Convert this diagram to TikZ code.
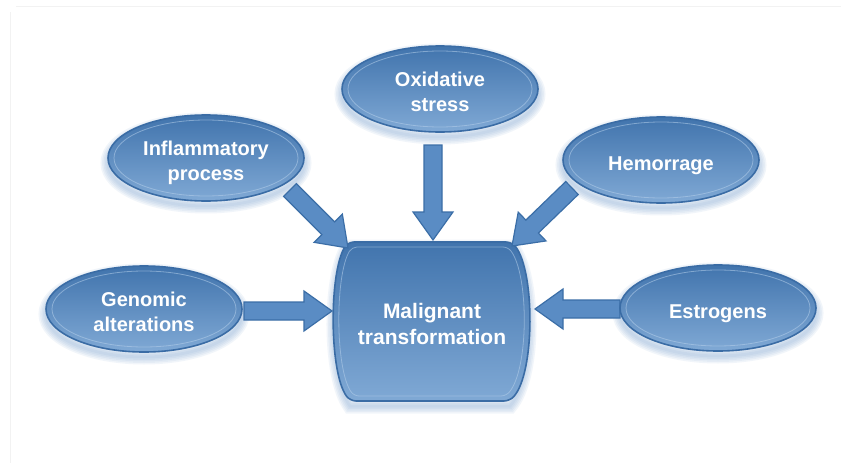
\documentclass[tikz,border=0pt]{standalone}
\usepackage{fontspec}
\setmainfont{Liberation Sans}
\usetikzlibrary{calc,shapes.geometric}
\definecolor{bTop}{HTML}{4174AD}
\definecolor{bBot}{HTML}{80A9D5}
\definecolor{bEdge}{HTML}{3A6CA5}
\definecolor{bRing}{HTML}{B5CFEA}
\definecolor{aFill}{HTML}{5A8CC4}
\definecolor{aEdge}{HTML}{3B6EA7}
\definecolor{glowc}{HTML}{7EA6D2}
\tikzset{
  bub/.style={ellipse, minimum width=196pt, minimum height=86pt, inner sep=0pt,
    top color=bTop, bottom color=bBot, draw=bEdge, line width=1.6pt,
    text=white, font=\bfseries\fontsize{20}{25}\selectfont},
  ringline/.style={draw=bRing, line width=0.8pt, opacity=0.55},
  arr/.style={fill=aFill, draw=aEdge, line width=1.2pt, line join=miter},
  glowline/.style={draw=glowc, opacity=0.10},
  frame/.style={draw=black!5, line width=0.8pt},
}
\newcommand\bubtext[1]{\raisebox{-5pt}[\height][\depth]{\begin{tabular}{@{}c@{}}#1\end{tabular}}}
\newcommand\bubglow[1]{%
  \foreach \w in {3,6,9,12,15}{\draw[glowline, line width=\w pt] ($(#1)+(0,5)$) ellipse (98pt and 43pt);}}
\newcommand\blockarr[2]{%
  \coordinate (hb) at ($(#2)!28pt!(#1)$);
  \path[arr] ($(#1)!9pt!90:(#2)$) -- ($(hb)!9pt!-90:(#1)$) -- ($(hb)!20pt!-90:(#1)$) -- (#2)
    -- ($(hb)!20pt!90:(#1)$) -- ($(hb)!9pt!90:(#1)$) -- ($(#1)!9pt!-90:(#2)$) -- cycle;}
\begin{document}
\begin{tikzpicture}[x=1pt,y=-1pt]
\useasboundingbox (0,0) rectangle (841,463);
\fill[white] (0,0) rectangle (841,463);
\draw[frame] (16,6) -- (841,6);
\draw[frame] (10,12) -- (10,463);
% centres
\coordinate (ox) at (440,89);
\coordinate (inf) at (206,158);
\coordinate (hem) at (661,160);
\coordinate (gen) at (144,309);
\coordinate (est) at (718,308);
% glows
\bubglow{ox}\bubglow{inf}\bubglow{hem}\bubglow{gen}\bubglow{est}
\foreach \w in {3,6,9,12,15}{
  \draw[glowline, line width=\w pt] (430,247) -- (512,247) .. controls (535,277) and (535,377) .. (510,406) -- (350,406) .. controls (329,377) and (329,277) .. (348,247) -- (430,247);}
% central box
\path[top color=bTop, bottom color=bBot, draw=bEdge, line width=1.6pt, rounded corners=6pt]
  (430,242) -- (512,242) .. controls (535,272) and (535,372) .. (510,401) -- (350,401) .. controls (329,372) and (329,272) .. (348,242) -- cycle;
\path[ringline, rounded corners=5pt]
  (430,247) -- (508,247) .. controls (529,275) and (529,369) .. (506,396) -- (354,396) .. controls (335,369) and (335,275) .. (352,247) -- cycle;
\node[text=white, font=\bfseries\fontsize{21}{26}\selectfont, align=center] (mal) at (432,324) {Malignant\\transformation};
% arrows
\coordinate (oxS) at (433,145);  \coordinate (oxE) at (433,240);
\coordinate (infS) at (290,190); \coordinate (infE) at (348,248);
\coordinate (hemS) at (572,188); \coordinate (hemE) at (512,246);
\coordinate (genS) at (244,311); \coordinate (genE) at (332,311);
\coordinate (estS) at (620,309); \coordinate (estE) at (535,309);
\blockarr{oxS}{oxE}
\blockarr{infS}{infE}
\blockarr{hemS}{hemE}
\blockarr{genS}{genE}
\blockarr{estS}{estE}
% bubbles
\node[bub] (oxN) at (ox) {\bubtext{Oxidative\\stress}};
\node[bub] (infN) at (inf) {\bubtext{Inflammatory\\process}};
\node[bub] (hemN) at (hem) {\bubtext{Hemorrage}};
\node[bub] (genN) at (gen) {\bubtext{Genomic\\alterations}};
\node[bub] (estN) at (est) {\bubtext{Estrogens}};
\foreach \n in {ox,inf,hem,gen,est}{\draw[ringline] (\n) ellipse (92pt and 38pt);}
\end{tikzpicture}
\end{document}
